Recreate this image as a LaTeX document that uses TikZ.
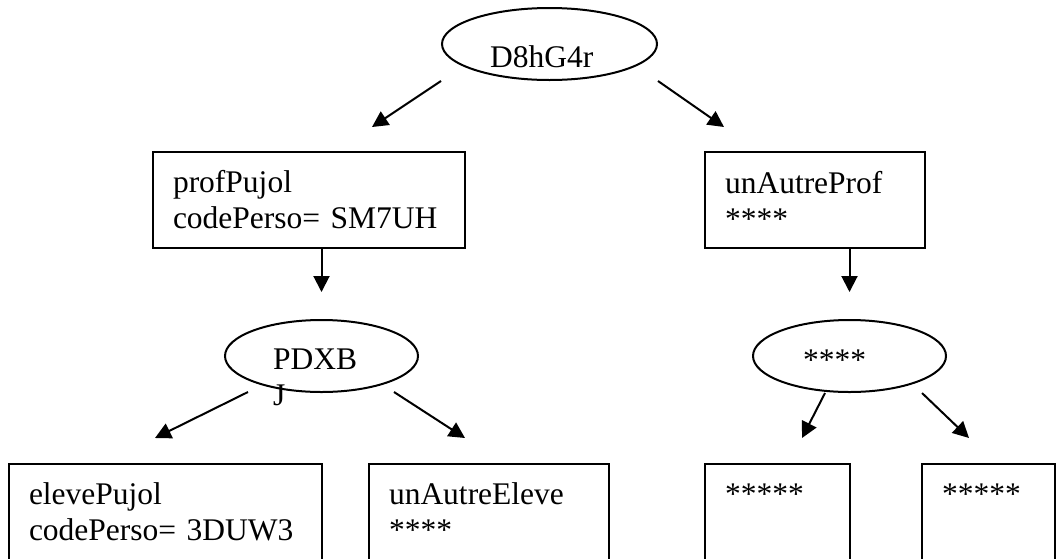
\documentclass[tikz,border=0pt]{standalone}
\usepackage{fontspec}
\setmainfont{Liberation Serif}
\usetikzlibrary{shapes.geometric,arrows.meta}

\begin{document}
\begin{tikzpicture}[x=1pt,y=-1pt,
	every node/.style={font=\fontsize{31.5}{36}\selectfont},
	ovale/.style={draw,ellipse,line width=2pt,minimum width=193,minimum height=72,inner sep=0},
	boite/.style={draw,rectangle,line width=2pt,minimum height=96,inner xsep=20,align=left},
	texte/.style={inner sep=0},
	fleche/.style={-{Triangle[length=16pt,width=16pt]},line width=2pt}]
		\useasboundingbox (0,0) rectangle (1057,558);
		\clip (0,0) rectangle (1057,558);
		% ellipses
		\node[ovale,minimum width=215] (racine) at (549.5,44) {};
		\node[texte,anchor=base west] (racineTxt) at (490,67) {D8hG4r};
		\node[ovale] (pdxb) at (321.5,356) {};
		\node[texte,anchor=north west,align=left] (pdxbTxt) at (273,349) {PDXB\\J};
		\node[ovale] (etoiles) at (849.5,356) {};
		\node[texte,anchor=base west] (etoilesTxt) at (803,370) {****};
		% boites
		\node[boite,text width=272] (prof) at (309,200) {profPujol\\codePerso= SM7UH};
		\node[boite,text width=180] (autreProf) at (815,200) {unAutreProf\\{}****};
		\node[boite,text width=273] (eleve) at (165.5,512) {elevePujol\\codePerso= 3DUW3};
		\node[boite,text width=200] (autreEleve) at (489,512) {unAutreEleve\\{}****};
		\node[boite,text width=105] (etoileA) at (777.5,512) {*****\\\mbox{}};
		\node[boite,text width=93] (etoileB) at (988.5,512) {*****\\\mbox{}};
		% bouts libres des fleches
		\coordinate (r1) at (372,127);
		\coordinate (r2) at (724,127);
		\coordinate (p1) at (248,392);
		\coordinate (p2) at (155,438);
		\coordinate (p3) at (394,392);
		\coordinate (p4) at (465,438);
		\coordinate (e1) at (825,393);
		\coordinate (e2) at (802,438);
		\coordinate (e3) at (922,393);
		\coordinate (e4) at (969,438);
		% fleches
		\draw[fleche] (racine.south -| racine.west) -- (r1);
		\draw[fleche] (racine.south -| racine.east) -- (r2);
		\draw[fleche,shorten >=27pt] (prof.south -| pdxb) -- (pdxb.north);
		\draw[fleche,shorten >=27pt] (autreProf.south -| etoiles) -- (etoiles.north);
		\draw[fleche] (p1) -- (p2);
		\draw[fleche] (p3) -- (p4);
		\draw[fleche] (e1) -- (e2);
		\draw[fleche] (e3) -- (e4);
	\end{tikzpicture}
\end{document}
